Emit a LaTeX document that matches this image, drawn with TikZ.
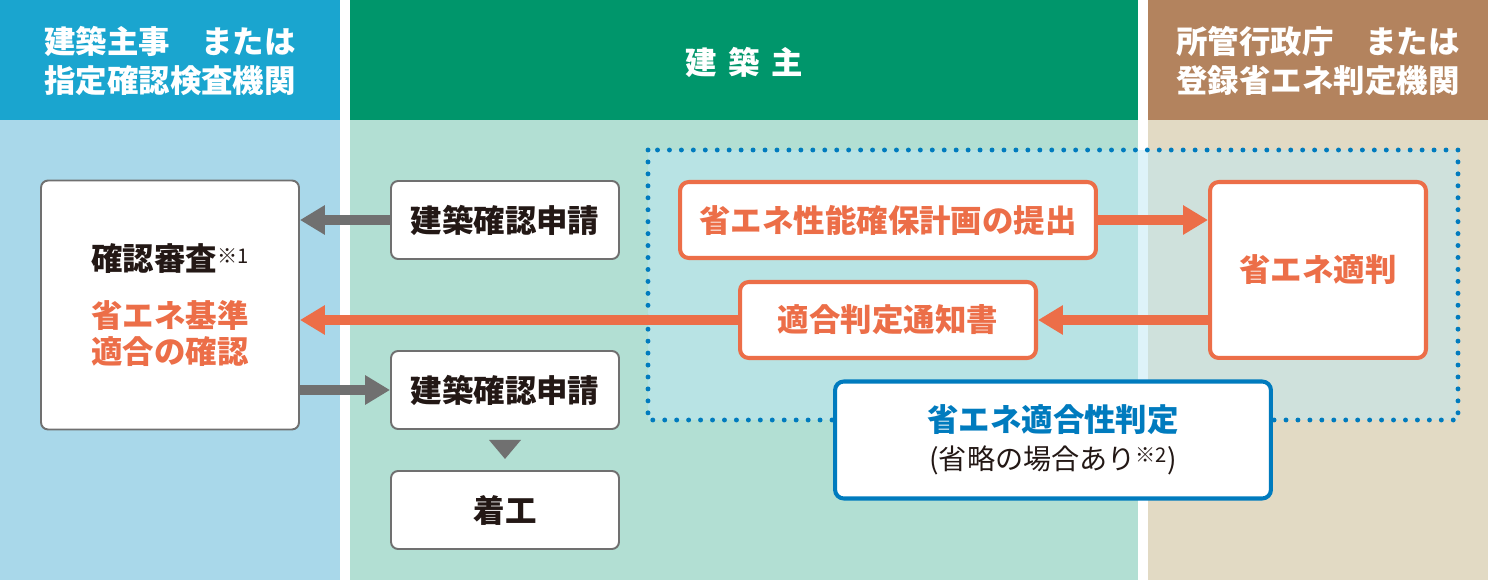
\documentclass[tikz,border=0pt]{standalone}
\usepackage{fontspec}
\setmainfont{Noto Sans CJK JP}
\usepackage{tikz}
\usetikzlibrary{
  arrows.meta,
  positioning
}
\definecolor{headblue}{RGB}{26,165,207}
\definecolor{bodyblue}{RGB}{169,216,234}
\definecolor{headgreen}{RGB}{0,150,107}
\definecolor{bodygreen}{RGB}{178,223,211}
\definecolor{headbrown}{RGB}{179,131,94}
\definecolor{bodybrown}{RGB}{226,218,196}
\definecolor{zonefill}{RGB}{190,232,245}
\definecolor{tekiblue}{RGB}{0,123,190}
\definecolor{shoene}{RGB}{236,110,72}
\definecolor{boxgray}{RGB}{112,112,112}
\definecolor{inkdark}{RGB}{35,24,21}

\newcommand{\kome}[1]{\raisebox{4pt}{\fontsize{11.5}{11.5}\selectfont\mdseries ※#1}}
\newcommand{\bigjp}{\fontsize{17.9}{20.4}\selectfont\bfseries}
\newcommand{\headjp}{\fontsize{17.9}{22.1}\selectfont\bfseries}
\newcommand{\subjp}{\fontsize{16}{17}\selectfont\mdseries}

\begin{document}
\begin{tikzpicture}[x=0.02cm, y=-0.02cm,
  headtext/.style={text=white, font=\headjp, align=center},
  graybox/.style={draw=boxgray, line width=1.1pt, fill=white, rounded corners=4pt,
    inner sep=0pt, text=inkdark, font=\bigjp, align=center},
  orangebox/.style={draw=shoene, line width=2.3pt, fill=white, rounded corners=5pt,
    inner sep=0pt, text=shoene, font=\bigjp, align=center},
  bluebox/.style={draw=tekiblue, line width=2.3pt, fill=white, rounded corners=5pt,
    inner sep=0pt, text=tekiblue, font=\bigjp, align=center},
  grayarrow/.style={draw=boxgray, line width=5.67pt,
    -{Triangle[length=14.2pt,width=15.9pt]}},
  orangearrow/.style={grayarrow, draw=shoene},
  zonedots/.style={draw=tekiblue, line width=2.8pt, line cap=round,
    dash pattern=on 0pt off 6.8pt, fill=zonefill, fill opacity=0.5}]
  \useasboundingbox (0,0) rectangle (1488,580);
  \fill[white] (0,0) rectangle (1488,580);
  \fill[headblue] (0,0) rectangle (340,120);
  \fill[bodyblue] (0,120) rectangle (340,580);
  \fill[headgreen] (350,0) rectangle (1138,120);
  \fill[bodygreen] (350,120) rectangle (1138,580);
  \fill[headbrown] (1148,0) rectangle (1488,120);
  \fill[bodybrown] (1148,120) rectangle (1488,580);
  \draw[zonedots] (648,150) rectangle (1458,420);

  \node[headtext] (headleft) at (170,61) {建築主事　または\\指定確認検査機関};
  \node[headtext] (headmid) at (744,62) {建\hspace{6.5pt}築\hspace{6.5pt}主};
  \node[headtext] (headright) at (1318,61) {所管行政庁　または\\登録省エネ判定機関};

  \node[graybox, minimum width=5.16cm, minimum height=4.98cm] (review) at (170,305)
    {確認審査\kome{1}\\[12pt]\textcolor{shoene}{省エネ基準}\\\textcolor{shoene}{適合の確認}};
  \node[graybox, minimum width=4.56cm, minimum height=1.56cm] (apply1) at (505,220) {建築確認申請};
  \node[graybox, minimum width=4.56cm, minimum height=1.56cm] (apply2) at (505,390) {建築確認申請};
  \node[graybox, minimum width=4.56cm, minimum height=1.56cm] (start) at (505,510) {着工};
  \node[orangebox, minimum width=8.32cm, minimum height=1.52cm] (plan) at (888,220) {省エネ性能確保計画の提出};
  \node[orangebox, minimum width=5.92cm, minimum height=1.52cm] (notice) at (888,320) {適合判定通知書};
  \node[orangebox, minimum width=4.32cm, minimum height=3.52cm] (judge) at (1318,270) {省エネ適判};
  \node[bluebox, minimum width=8.72cm, minimum height=2.34cm] (check) at (1053,440)
    {省エネ適合性判定\\[1pt]\textcolor{inkdark}{\subjp (省略の場合あり\kome{2})}};

  \draw[grayarrow] (apply1.west) -- (review.east |- apply1.west);
  \draw[orangearrow] (notice.west) -- (review.east |- notice.west);
  \draw[grayarrow] (review.east |- apply2.west) -- (apply2.west);
  \draw[orangearrow] (plan.east) -- (judge.west |- plan.east);
  \draw[orangearrow] (judge.west |- notice.east) -- (notice.east);
  \fill[boxgray] ([xshift=-0.32cm,yshift=-0.2cm]apply2.south)
    -- ([xshift=0.32cm,yshift=-0.2cm]apply2.south)
    -- ([yshift=-0.58cm]apply2.south) -- cycle;
\end{tikzpicture}
\end{document}
